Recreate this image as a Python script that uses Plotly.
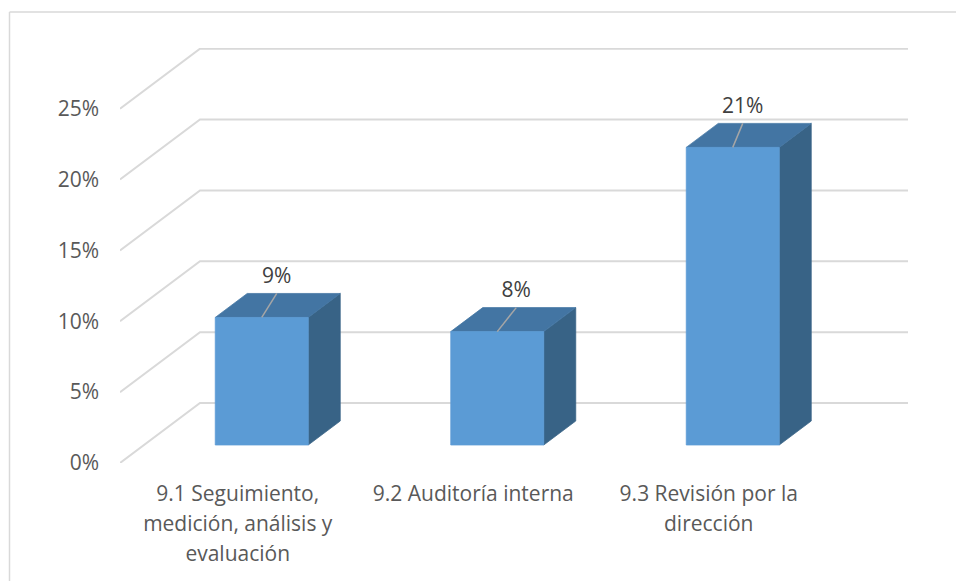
import plotly.graph_objects as go

# ---- data ----
categories = ["9.1 Seguimiento,|medición, análisis y|evaluación", "9.2 Auditoría interna", "9.3 Revisión por la|dirección"]
values = [9, 8, 21]
value_labels = ["9%", "8%", "21%"]
y_ticks = [0, 5, 10, 15, 20, 25]
y_tick_labels = ["0%", "5%", "10%", "15%", "20%", "25%"]
leader_shift_px = [15, 19, 10]

# ---- page geometry ----
W, H = 956, 581
PLOT_L, PLOT_R, PLOT_T, PLOT_B = 120, 908, 48, 463
PX_PER_CAT = 235.5
PX_PER_PCT = 14.172
WALL_DX_PX, WALL_DY_PX = 80.0, 60.0   # oblique projection of full floor depth
BAR_WIDTH = 0.395                     # category units
BAR_D0, BAR_D1 = 0.30, 0.70           # fraction of floor depth
LABEL_LIFT_PX = 5

x_range = [-0.5, -0.5 + (PLOT_R - PLOT_L) / PX_PER_CAT]
y_range = [0, (PLOT_B - PLOT_T) / PX_PER_PCT]


def proj(x, y, d):
    """Project (category, percent, depth 0-1) on to the flat axes."""
    return x + d * WALL_DX_PX / PX_PER_CAT, y + d * WALL_DY_PX / PX_PER_PCT


GRID = "#D9D9D9"
FRONT, TOP, SIDE = "#5B9BD5", "#4375A3", "#386386"
LEADER = "#A6A6A6"

fig = go.Figure()


def poly(points, color):
    xs, ys = zip(*points)
    fig.add_trace(go.Scatter(x=list(xs) + [xs[0]], y=list(ys) + [ys[0]], mode="lines", fill="toself",
                             fillcolor=color, line=dict(color=color, width=0.75),
                             hoverinfo="skip", showlegend=False, cliponaxis=False))


# gridlines: front edge -> back wall -> right end
for t in y_ticks:
    a = proj(x_range[0], t, 0)
    b = proj(x_range[0], t, 1)
    fig.add_trace(go.Scatter(x=[a[0], b[0], x_range[1]], y=[a[1], b[1], b[1]], mode="lines",
                             line=dict(color=GRID, width=2), hoverinfo="skip",
                             showlegend=False, cliponaxis=False))

# bars
for i, v in enumerate(values):
    l, r = i - BAR_WIDTH / 2, i + BAR_WIDTH / 2
    poly([proj(r, 0, BAR_D0), proj(r, 0, BAR_D1), proj(r, v, BAR_D1), proj(r, v, BAR_D0)], SIDE)
    poly([proj(l, v, BAR_D0), proj(l, v, BAR_D1), proj(r, v, BAR_D1), proj(r, v, BAR_D0)], TOP)
    poly([proj(l, 0, BAR_D0), proj(r, 0, BAR_D0), proj(r, v, BAR_D0), proj(l, v, BAR_D0)], FRONT)

# leader lines and value labels
for i, v in enumerate(values):
    sx, sy = proj(i, v, BAR_D0)
    ex = sx + leader_shift_px[i] / PX_PER_CAT
    ey = proj(i, v, BAR_D1)[1]
    fig.add_trace(go.Scatter(x=[sx, ex], y=[sy, ey], mode="lines", line=dict(color=LEADER, width=1.5),
                             hoverinfo="skip", showlegend=False, cliponaxis=False))
    fig.add_trace(go.Scatter(x=[ex], y=[ey + LABEL_LIFT_PX / PX_PER_PCT], mode="text", text=[value_labels[i]],
                             textposition="top center",
                             textfont=dict(family="Open Sans", size=21, color="#404040"),
                             hoverinfo="skip", showlegend=False, cliponaxis=False))

ticktext = ["<br>".join('<span style="font-size:21px">%s</span>' % s for s in c.split("|")) for c in categories]

fig.update_layout(
    width=W, height=H, autosize=False,
    margin=dict(l=PLOT_L, r=W - PLOT_R, t=PLOT_T, b=H - PLOT_B, pad=0),
    paper_bgcolor="white", plot_bgcolor="rgba(0,0,0,0)",
    font=dict(family="Open Sans", color="#595959"),
    xaxis=dict(range=x_range, tickmode="array", tickvals=list(range(len(categories))), ticktext=ticktext,
               showgrid=False, zeroline=False, showline=False, ticks="", ticklabelstandoff=14, automargin=False,
               tickfont=dict(family="Open Sans", size=23, color="#595959"), tickangle=0, fixedrange=True),
    yaxis=dict(range=y_range, tickmode="array", tickvals=y_ticks, ticktext=y_tick_labels,
               showgrid=False, zeroline=False, showline=False, ticks="", ticklabelstandoff=20, automargin=False,
               tickfont=dict(family="Open Sans", size=21, color="#595959"), fixedrange=True),
    shapes=[
        dict(type="line", xref="paper", yref="paper",
             x0=(9.5 - PLOT_L) / (PLOT_R - PLOT_L), x1=(9.5 - PLOT_L) / (PLOT_R - PLOT_L),
             y0=(PLOT_B - H) / (PLOT_B - PLOT_T), y1=(PLOT_B - 12) / (PLOT_B - PLOT_T),
             line=dict(color=GRID, width=1.5)),
        dict(type="line", xref="paper", yref="paper",
             x0=(9.5 - PLOT_L) / (PLOT_R - PLOT_L), x1=(W - PLOT_L) / (PLOT_R - PLOT_L),
             y0=(PLOT_B - 12) / (PLOT_B - PLOT_T), y1=(PLOT_B - 12) / (PLOT_B - PLOT_T),
             line=dict(color=GRID, width=1.5)),
    ],
)

fig.write_html("out.html", config={"displayModeBar": False},
               post_script="document.body.style.margin='0';document.body.style.overflow='hidden';")
